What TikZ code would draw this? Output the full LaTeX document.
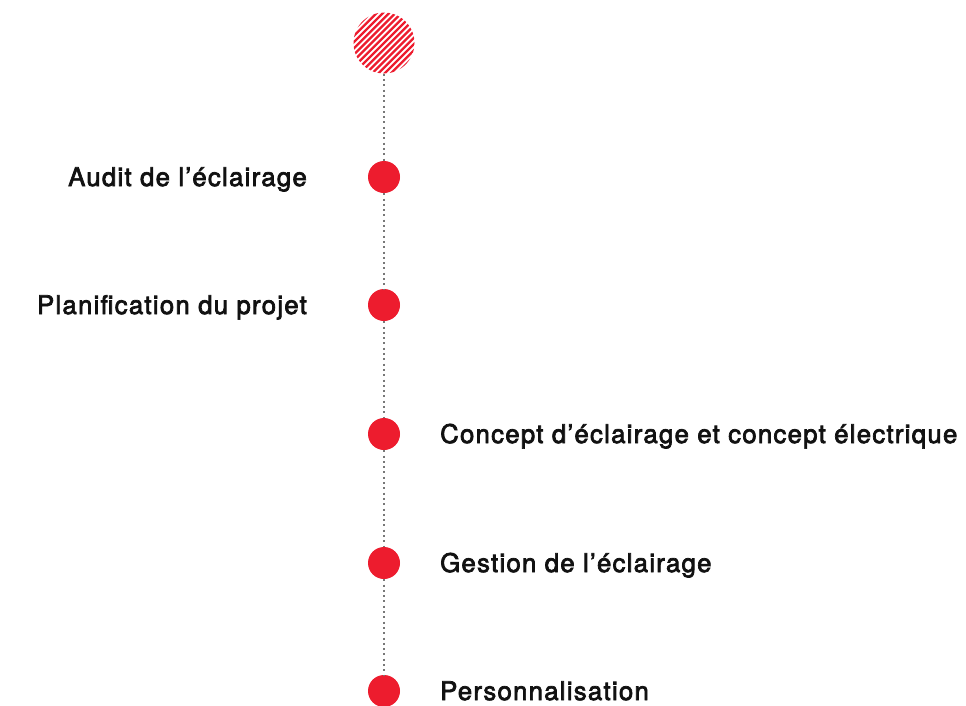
\documentclass[tikz,border=0pt]{standalone}
\usepackage{fontspec}
\setmainfont{TeX Gyre Heros}[LetterSpace=5,FakeBold=2.8]
\definecolor{dotred}{RGB}{237,28,46}
\definecolor{txt}{RGB}{17,17,17}
\definecolor{lgray}{RGB}{120,120,120}
\begin{document}
\begin{tikzpicture}[x=1pt,y=1pt,
  stepdot/.style={circle,fill=dotred,minimum size=32pt,inner sep=0pt},
  hatchc/.style={circle,minimum size=61pt,inner sep=0pt},
  conn/.style={draw=lgray,line width=2pt,dash pattern=on 2pt off 3.3pt},
  lab/.style={font=\fontsize{25.7}{29}\selectfont,text=txt,inner sep=0pt}]
\useasboundingbox (0,0) rectangle (966,-705);
\node[hatchc] (h) at (384,-43) {};
\begin{scope}
  \clip (384,-43) circle (30.5pt);
  \foreach \k in {-93,-86.8,...,93} {
    \draw[dotred,line width=2.3pt] (384+\k-40,-43-40) -- (384+\k+40,-43+40);
  }
\end{scope}
\node[stepdot] (d1) at (384,-177) {};
\node[stepdot] (d2) at (384,-305) {};
\node[stepdot] (d3) at (384,-434) {};
\node[stepdot] (d4) at (384,-563) {};
\node[stepdot] (d5) at (384,-691) {};
\draw[conn] (h) -- (d1);
\draw[conn] (d1) -- (d2);
\draw[conn] (d2) -- (d3);
\draw[conn] (d3) -- (d4);
\draw[conn] (d4) -- (d5);
\node[lab,anchor=base east] (l1) at (307,-186) {Audit de l’éclairage};
\node[lab,anchor=base east] (l2) at (307,-314) {Planification du projet};
\node[lab,anchor=base west] (l3) at (440,-443) {Concept d’éclairage et concept électrique};
\node[lab,anchor=base west] (l4) at (440,-572) {Gestion de l’éclairage};
\node[lab,anchor=base west] (l5) at (440,-700) {Personnalisation};
\end{tikzpicture}
\end{document}
